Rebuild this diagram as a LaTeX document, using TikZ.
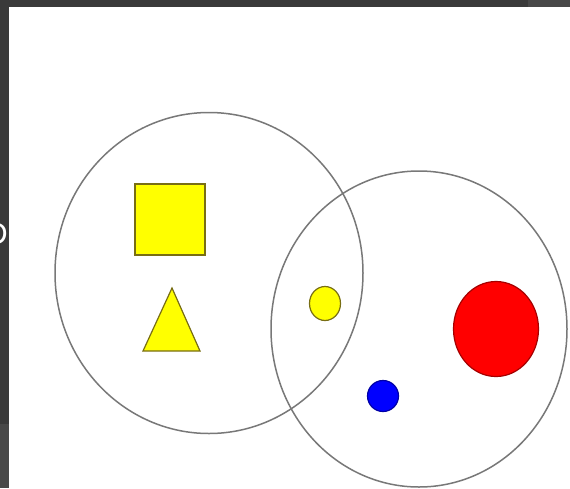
\documentclass[tikz,border=0pt]{standalone}
\usepackage{fontspec}
\setmainfont{Liberation Sans}
\usetikzlibrary{shapes.geometric}
\usepackage{xcolor}
\definecolor{framegray}{RGB}{58, 58, 58}
\definecolor{framelight}{RGB}{72, 72, 72}
\definecolor{ringgray}{RGB}{120, 120, 120}
\definecolor{dotyellow}{RGB}{255, 255, 0}
\definecolor{edgeyellow}{RGB}{120, 110, 20}

\begin{document}
\begin{tikzpicture}[x=1pt, y=-1pt,
      ring/.style={ellipse, draw=ringgray, line width=1.5pt, inner sep=0pt},
      dot/.style={ellipse, inner sep=0pt, line width=1.2pt},
      yshape/.style={fill=dotyellow, draw=edgeyellow, line width=1.2pt}]
    \useasboundingbox (0,0) rectangle (570,488);
    % dark frame round the page
    \fill[framegray] (0,0) rectangle (570,488);
    \fill[framelight] (528,0) rectangle (570,7);
    \fill[framelight] (0,424) rectangle (9,488);
    \fill[white] (9,7) rectangle (570,488);
    \node[anchor=east, inner sep=0pt, text=white,
          font=\fontsize{31}{31}\selectfont] (lbl) at (8,234) {D};
    % the two sets
    \node[ring, minimum width=308pt, minimum height=321pt] (setA) at (209,273) {};
    \node[ring, minimum width=296pt, minimum height=316pt] (setB) at (419,329) {};
    % members
    \node[yshape, rectangle, minimum width=70pt, minimum height=71pt, inner sep=0pt]
      (sq) at (170,219.5) {};
    \draw[yshape, line join=miter] (143,351) -- (200,351) -- (172,288) -- cycle;
    \node[dot, yshape, minimum width=31pt, minimum height=34pt] (ydot) at (325,303.5) {};
    \node[dot, fill=blue, draw=blue!65!black, minimum width=31pt, minimum height=31pt]
      (bdot) at (383,396) {};
    \node[dot, fill=red, draw=red!65!black, minimum width=85pt, minimum height=95pt]
      (rdot) at (496,329) {};
  \end{tikzpicture}
\end{document}
